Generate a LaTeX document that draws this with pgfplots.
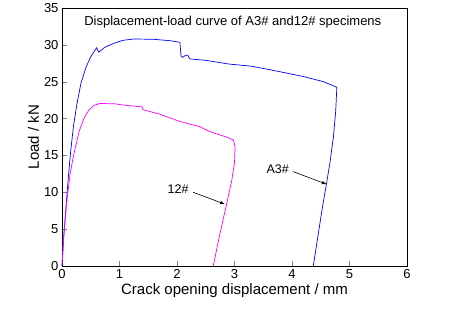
\documentclass[border=0pt]{standalone}
\usepackage{fontspec}
\setmainfont{Liberation Sans}
\usepackage{pgfplots}
\pgfplotsset{compat=1.18}
\definecolor{mag}{RGB}{255,0,255}
\definecolor{blu}{RGB}{0,0,255}
\begin{document}
\begin{tikzpicture}
\begin{axis}[
  scale only axis, width=345pt, height=258pt,
  xmin=0, xmax=6, ymin=0, ymax=35,
  xtick={0,1,...,6}, ytick={0,5,...,35},
  tick pos=left, tick align=inside,
  major tick length=5pt,
  /pgf/number format/assume math mode=true,
  ticklabel style={font=\fontsize{13}{13}\selectfont},
  xlabel={Crack opening displacement / mm},
  ylabel={Load / kN},
  label style={font=\fontsize{15}{15}\selectfont},
  xlabel style={yshift=2pt},
  ylabel style={yshift=-2pt},
  axis line style={line width=0.9pt},
  clip=false,
]
\addplot[blu, line width=0.7pt] coordinates {
(0,0)(0.03,4)(0.07,8)(0.11,12)(0.15,15.5)(0.2,19)(0.26,22)(0.33,24.8)(0.42,27)(0.5,28.4)(0.6,29.6)(0.64,29.0)(0.75,29.7)(0.9,30.2)(1.05,30.6)(1.25,30.8)(1.6,30.75)(1.9,30.55)(2.05,30.35)(2.07,28.5)(2.1,28.3)(2.15,28.6)(2.19,28.6)(2.22,28.1)(2.5,27.9)(2.9,27.4)(3.3,27.1)(3.7,26.5)(4.2,25.7)(4.55,25.0)(4.78,24.25)(4.76,21)(4.72,17.5)(4.66,14)(4.6,11.2)(4.52,7.5)(4.45,4)(4.37,0)
};
\addplot[mag, line width=0.7pt] coordinates {
(0,0)(0.03,4)(0.08,8.5)(0.14,12.5)(0.22,15.7)(0.3,18.3)(0.38,20)(0.47,21.2)(0.56,21.8)(0.66,22.05)(0.92,22.0)(1.1,21.8)(1.39,21.6)(1.41,21.2)(1.7,20.6)(2.05,19.6)(2.4,18.9)(2.55,18.3)(2.66,18.0)(2.86,17.5)(2.98,17.1)(3.01,16.2)(3.0,14)(2.95,11.5)(2.86,8.3)(2.75,4.5)(2.63,0)
};
\node[font=\fontsize{13}{13}\selectfont] at (axis cs:2.97,33.1) {Displacement-load curve of A3\# and12\# specimens};
\node[font=\fontsize{12.5}{12.5}\selectfont] at (axis cs:2.02,10.4) {12\#};
\draw[-latex, line width=0.6pt] (axis cs:2.28,10.0) -- (axis cs:2.83,8.4);
\node[font=\fontsize{12.5}{12.5}\selectfont] at (axis cs:3.75,13.1) {A3\#};
\draw[-latex, line width=0.6pt] (axis cs:4.02,12.8) -- (axis cs:4.60,11.1);
\end{axis}
\path ([xshift=-62pt,yshift=-50pt]current axis.south west) rectangle ([xshift=56pt,yshift=8pt]current axis.north east);
\end{tikzpicture}
\end{document}
